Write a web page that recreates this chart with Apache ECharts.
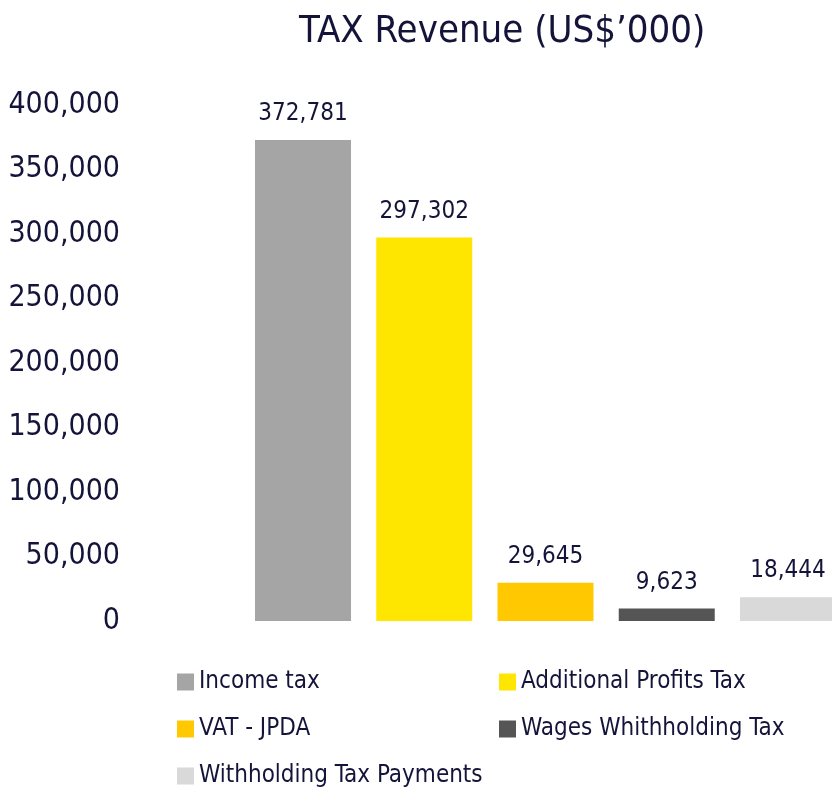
<!DOCTYPE html>
<html>
<head>
<meta charset="utf-8">
<script src="https://cdn.jsdelivr.net/npm/echarts@6/dist/echarts.min.js"></script>
<style>
  html, body { margin: 0; padding: 0; background: #fff; }
  #chart { width: 832px; height: 790px; }
</style>
</head>
<body>
<div id="chart"></div>
<script>
/* ================================
   DATA
================================ */
const seriesNames  = ["Income tax", "Additional Profits Tax", "VAT - JPDA", "Wages Whithholding Tax", "Withholding Tax Payments"];
const seriesValues = [372781, 297302, 29645, 9623, 18444];
const seriesColors = ["#a5a5a5", "#ffe600", "#ffc800", "#555555", "#d9d9d9"];

const TEXT = "#14143a";
const FONT = "'DejaVu Sans Condensed', 'Liberation Sans Narrow', sans-serif";

const fmt = v => v.toLocaleString("en-US");

/* ================================
   SERIES (clustered in a single category)
================================ */
const series = seriesNames.map((name, i) => ({
  name: name,
  type: "bar",
  data: [seriesValues[i]],
  barWidth: 96,
  barGap: "26.3%",
  clip: false,
  itemStyle: { color: seriesColors[i] },
  label: {
    show: true,
    position: "top",
    distance: 14,
    color: TEXT,
    fontFamily: FONT,
    fontSize: 24,
    formatter: p => fmt(p.value)
  }
}));

const legendText = { color: TEXT, fontFamily: FONT, fontSize: 24 };
const legendBase = {
  orient: "vertical",
  top: 665,
  height: 200,
  itemWidth: 17,
  itemHeight: 17,
  itemGap: 23,
  icon: "rect",
  textStyle: legendText
};

const chart = echarts.init(document.getElementById("chart"));
chart.setOption({
  animation: false,
  title: {
    text: "TAX Revenue (US$\u2019000)",
    left: 294,
    top: 8,
    textStyle: { color: TEXT, fontFamily: FONT, fontSize: 38, fontWeight: "normal" }
  },
  legend: [
    Object.assign({ left: 172, data: [seriesNames[0], seriesNames[2], seriesNames[4]] }, legendBase),
    Object.assign({ left: 494, data: [seriesNames[1], seriesNames[3]] }, legendBase)
  ],
  grid: { left: 259, right: 0, top: 105, bottom: 169 },
  xAxis: {
    type: "category",
    data: [""],
    axisLine: { show: false },
    axisTick: { show: false },
    axisLabel: { show: false }
  },
  yAxis: {
    type: "value",
    min: 0,
    max: 400000,
    interval: 50000,
    splitLine: { show: false },
    axisLine: { show: false },
    axisTick: { show: false },
    axisLabel: {
      margin: 139,
      color: TEXT,
      fontFamily: FONT,
      fontSize: 30,
      formatter: v => fmt(v)
    }
  },
  series: series
});
</script>
</body>
</html>
